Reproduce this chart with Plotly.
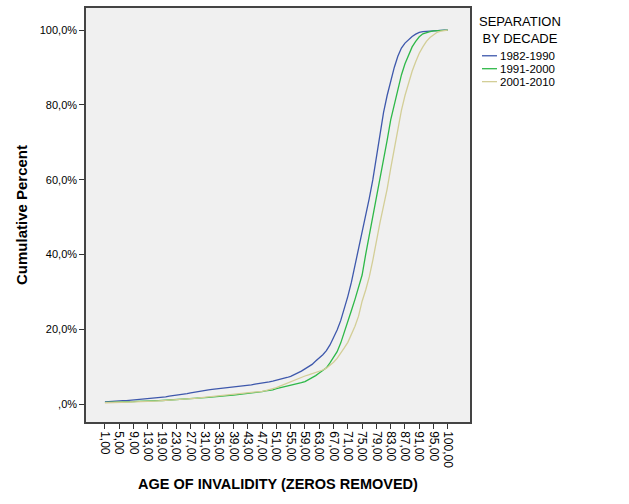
import plotly.graph_objects as go

ages = list(range(1, 14)) + [15, 16, 18] + list(range(19, 96)) + [96, 97, 98, 100]
categories = [f"{a},00" for a in ages]

blue_1982_1990 = [0.6, 0.7, 0.7, 0.8, 0.8, 0.9, 0.9, 1.0, 1.0, 1.1,
                  1.1, 1.2, 1.3, 1.4, 1.5, 1.6, 1.8, 1.9, 2.1, 2.2,
                  2.4, 2.5, 2.7, 2.8, 3.0, 3.2, 3.4, 3.5, 3.7, 3.8,
                  3.9, 4.0, 4.2, 4.3, 4.4, 4.5, 4.6, 4.7, 4.8, 4.9,
                  5.0, 5.1, 5.3, 5.4, 5.5, 5.7, 5.9, 6.1, 6.3, 6.6,
                  6.8, 7.1, 7.4, 7.8, 8.2, 8.8, 9.4, 10.0, 10.6, 11.5,
                  12.3, 13.2, 14.3, 15.8, 17.8, 19.8, 22.3, 25.3, 28.8, 32.6,
                  37.0, 42.0, 46.5, 51.0, 55.0, 60.0, 66.0, 72.5, 78.0, 82.5,
                  86.5, 90.0, 93.0, 95.2, 96.5, 97.4, 98.3, 98.9, 99.4, 99.6,
                  99.7, 99.8, 99.9, 99.9, 100, 100, 100]

green_1991_2000 = [0.45, 0.45, 0.5, 0.5, 0.5, 0.55, 0.6, 0.6, 0.65, 0.7,
                   0.7, 0.75, 0.8, 0.8, 0.85, 0.9, 0.95, 1.0, 1.0, 1.05,
                   1.1, 1.15, 1.2, 1.25, 1.3, 1.4, 1.5, 1.6, 1.7, 1.8,
                   1.85, 1.9, 2.0, 2.1, 2.2, 2.3, 2.4, 2.5, 2.6, 2.7,
                   2.8, 2.9, 3.0, 3.2, 3.3, 3.5, 3.6, 3.8, 4.1, 4.3,
                   4.5, 4.7, 4.9, 5.1, 5.4, 5.7, 6.0, 6.5, 7.0, 7.6,
                   8.3, 9.0, 9.7, 11.0, 12.5, 14.0, 16.3, 19.0, 22.0, 25.0,
                   28.0, 31.0, 34.5, 40.0, 45.0, 50.0, 55.0, 60.0, 65.5, 70.5,
                   76.0, 80.0, 84.5, 88.0, 91.0, 93.5, 95.5, 97.0, 98.2, 99.0,
                   99.4, 99.6, 99.8, 99.9, 100, 100, 100]

tan_2001_2010 = [0.35, 0.35, 0.4, 0.4, 0.45, 0.5, 0.5, 0.55, 0.6, 0.6,
                 0.65, 0.7, 0.7, 0.75, 0.8, 0.85, 0.9, 0.95, 1.0, 1.05,
                 1.1, 1.15, 1.2, 1.3, 1.4, 1.5, 1.6, 1.7, 1.8, 1.85,
                 1.9, 2.0, 2.1, 2.2, 2.3, 2.4, 2.5, 2.6, 2.7, 2.8,
                 2.9, 3.0, 3.1, 3.3, 3.4, 3.6, 3.8, 4.0, 4.4, 4.8,
                 5.2, 5.6, 6.0, 6.4, 6.9, 7.2, 7.5, 7.8, 8.1, 8.4,
                 8.7, 9.1, 9.6, 10.3, 11.2, 12.2, 13.5, 15.0, 16.5, 18.5,
                 20.8, 23.5, 27.5, 30.5, 34.0, 38.5, 44.0, 48.5, 53.0, 57.5,
                 63.0, 68.5, 74.0, 78.5, 82.5, 86.0, 89.0, 91.5, 93.8, 95.5,
                 97.0, 98.0, 98.8, 99.4, 99.7, 99.9, 100]

series_names = ["1982-1990", "1991-2000", "2001-2010"]
series_colors = ["#3E58AC", "#2EB848", "#D3CE97"]
series_values = [blue_1982_1990, green_1991_2000, tan_2001_2010]
legend_title = "SEPARATION<br>BY DECADE"

y_tickvals = [0, 20, 40, 60, 80, 100]
y_ticktext = [",0%", "20,0%", "40,0%", "60,0%", "80,0%", "100,0%"]
x_tickvals = categories[::4]

W, H = 629, 504
ML, MR, MT, MB = 86, 159, 6, 82
PW, PH = W - ML - MR, H - MT - MB


def px_x(p):
    return (p - ML) / PW


def px_y(p):
    return (H - MB - p) / PH


fig = go.Figure()
for name, color, vals in zip(series_names, series_colors, series_values):
    fig.add_trace(go.Scatter(x=categories, y=vals, mode="lines", name=name,
                             line=dict(color=color, width=1.3),
                             showlegend=False))

font_family = "Liberation Sans, Arial, sans-serif"

# manual legend (SPSS-like compact spacing)
annotations = [dict(text=legend_title, xref="paper", yref="paper",
                    x=px_x(520), y=px_y(10), xanchor="center", yanchor="top",
                    showarrow=False, align="center",
                    font=dict(size=13, family=font_family, color="#000"))]
shapes = []
for k, (name, color) in enumerate(zip(series_names, series_colors)):
    yy = 54 + 13 * k
    shapes.append(dict(type="line", xref="paper", yref="paper",
                       x0=px_x(482), x1=px_x(497), y0=px_y(yy), y1=px_y(yy),
                       line=dict(color=color, width=1.3)))
    annotations.append(dict(text=name, xref="paper", yref="paper",
                            x=px_x(498), y=px_y(yy), xanchor="left",
                            yanchor="middle", showarrow=False,
                            font=dict(size=11.5, family=font_family, color="#000")))

fig.update_layout(
    width=W, height=H,
    margin=dict(l=ML, r=MR, t=MT, b=MB),
    paper_bgcolor="white",
    plot_bgcolor="#F0F0F0",
    font=dict(family=font_family, size=11, color="#000"),
    showlegend=False,
    annotations=annotations,
    shapes=shapes,
    xaxis=dict(
        type="category", categoryorder="array", categoryarray=categories,
        range=[-5.3, 102.2], tickmode="array", tickvals=x_tickvals,
        tickangle=90, ticks="outside", ticklen=5, tickcolor="#333",
        showgrid=False, zeroline=False,
        showline=True, linecolor="#444", linewidth=1.5, mirror=True,
        title=dict(text="<b>AGE OF INVALIDITY (ZEROS REMOVED)</b>",
                   font=dict(size=14.5, family=font_family), standoff=12),
        tickfont=dict(size=12),
    ),
    yaxis=dict(
        range=[-4.8, 105.9], tickmode="array", tickvals=y_tickvals,
        ticktext=y_ticktext, ticks="outside", ticklen=5, tickcolor="#333",
        showgrid=False, zeroline=False,
        showline=True, linecolor="#444", linewidth=1.5, mirror=True,
        title=dict(text="<b>Cumulative Percent</b>",
                   font=dict(size=15, family=font_family), standoff=8),
        tickfont=dict(size=11),
    ),
)

fig.write_html("out.html")
